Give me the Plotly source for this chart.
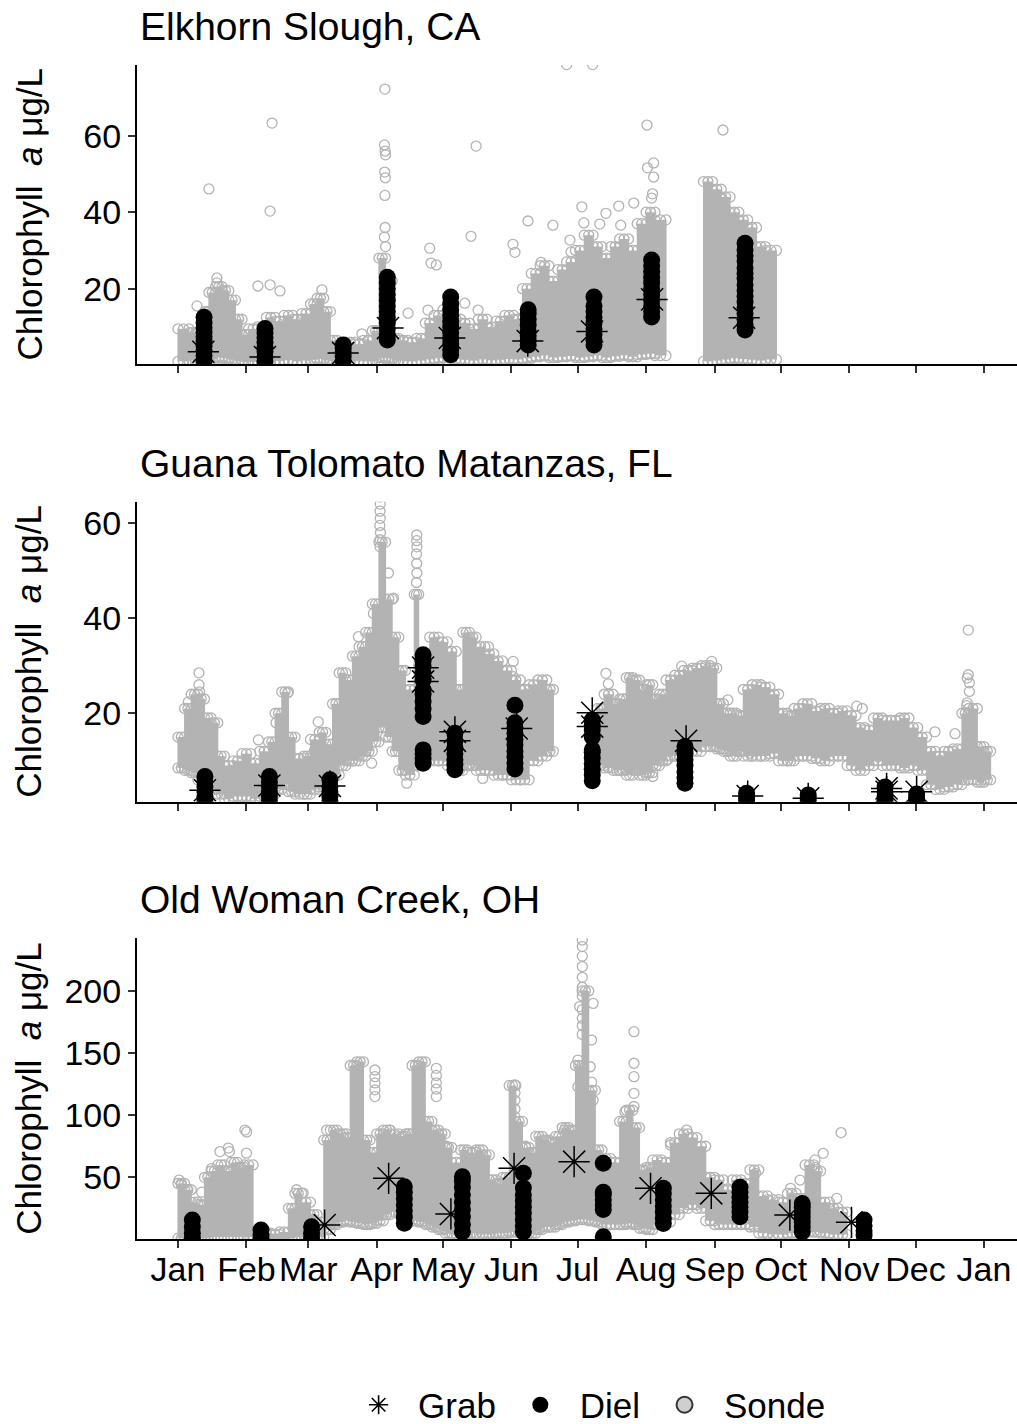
import pandas as pd
import plotly.graph_objects as go

# ---------------------------------------------------------------------------
# Chlorophyll a (ug/L) at three NERR sites: continuous sonde readings,
# diel sampling events and grab samples over one calendar year.
# Days are given as day of year (0 = 1 January).
# ---------------------------------------------------------------------------
YEAR_START = pd.Timestamp("2017-01-01")

month_ticks = ["2017-01-01", "2017-02-01", "2017-03-01", "2017-04-01",
               "2017-05-01", "2017-06-01", "2017-07-01", "2017-08-01",
               "2017-09-01", "2017-10-01", "2017-11-01", "2017-12-01",
               "2018-01-01"]
month_labels = ["Jan", "Feb", "Mar", "Apr", "May", "Jun", "Jul", "Aug",
                "Sep", "Oct", "Nov", "Dec", "Jan"]

site_names = ["Elkhorn Slough, CA", "Guana Tolomato Matanzas, FL",
              "Old Woman Creek, OH"]

# ---- Elkhorn Slough -------------------------------------------------------
# sonde envelope: window edges (days), upper and lower reading per window
es_edges = [0, 5, 8, 12, 14, 17, 20, 23, 26, 29, 32, 36, 40, 44, 48, 52, 56,
            60, 63, 66, 69, 72, 76, 80, 84, 88, 91, 94, 97, 100, 104, 108, 112,
            116, 120, 124, 128, 132, 136, 140, 144, 148, 152, 156, 160, 164,
            168, 172, 176, 180, 184, 188, 192, 196, 200, 204, 208, 212, 216,
            221, 238, 242, 246, 250, 254, 258, 262, 266, 271]
es_hi = [9.5, 8.5, 8, 14, 19, 20.5, 19.5, 17, 12, 8, 9.5, 10, 12.5, 11.5, 13,
         12, 13.5, 16, 17.5, 14, 6.5, 5, 6, 5.5, 6.5, 9, 28, 22, 7, 6.5, 6, 7,
         11, 13, 14.5, 12, 11, 9.5, 12, 10, 11.5, 13, 12, 20, 24, 26, 22, 25,
         27, 30, 34, 31, 28, 31, 33, 30, 37, 40, 38, None, 48, 46, 44, 40, 38,
         36, 31, 30]
es_lo = [1.0, 1.2, 0.9, 1.1, 1.5, 2.0, 1.8, 1.4, 1.0, 0.8, 0.9, 1.0, 1.2, 1.1,
         1.3, 1.0, 1.2, 1.4, 1.6, 1.2, 1.0, 0.9, 1.0, 1.1, 1.0, 1.2, 2.0, 1.8,
         1.2, 1.1, 1.0, 1.2, 1.5, 1.8, 2.0, 1.6, 1.4, 1.2, 1.5, 1.3, 1.4, 1.6,
         1.5, 1.8, 2.2, 2.5, 2.0, 2.2, 2.4, 2.0, 2.2, 2.5, 2.0, 2.3, 2.6, 2.2,
         2.8, 3.0, 2.5, None, 1.0, 1.2, 1.5, 1.8, 1.6, 1.4, 1.2, 1.5]
# isolated sonde readings outside the main envelope
es_out_day = [14, 42.6, 41.7, 93.7, 93.5, 93.8, 94, 93.6, 93.9, 93.7, 93.8,
              93.5, 94, 135, 132.7, 114, 114.6, 117, 176, 187.8, 212.4, 246.8,
              215.4, 212.6, 215.4, 214.9, 214.5, 158.5, 169.8, 182.9, 191,
              199.6, 206.4, 200.5, 183.8, 177.5, 178, 245.5, 246.5, 251, 8.6,
              36.2, 41.7, 46.2, 17.6, 17.6, 65.2, 104.2, 83.3, 113.2, 129.9,
              135.9, 151.7, 152.6, 164.4, 193.8]
es_out_val = [46.1, 63.3, 40.3, 72.2, 57.6, 56, 55, 50.5, 49, 44.4, 36, 33.5,
              31, 57.3, 33.7, 30.6, 26.7, 26.2, 78.6, 78.6, 62.8, 61.5, 52.9,
              51.6, 49.2, 44.8, 43.7, 37.7, 36.6, 41.4, 36.9, 41.6, 42.4, 36.6,
              37.2, 32.7, 29.6, 43.7, 41.1, 36.6, 15.5, 20.7, 21, 19.4, 22.8,
              21.5, 19.7, 13.6, 8.2, 14.4, 16.2, 14.4, 31.6, 29.5, 26.9, 39.7]
es_diel_day = [11.8, 39.4, 74.8, 94.8, 123.5, 158.6, 188.4, 214.5, 256.8]
es_diel_val = [
    [1.2, 2.5, 3.8, 5, 6.3, 7.5, 8.6, 9.8, 11, 12.5],
    [1.0, 2.2, 3.5, 4.7, 6, 7.2, 8.4, 9.6],
    [1.2, 2.3, 3.4, 4.4, 5.3],
    [6.6, 8, 9.5, 11, 12.5, 14, 15.5, 17, 18.5, 20, 21.5, 23],
    [2.7, 4, 5.5, 7, 8.5, 10, 11.5, 13, 14.5, 16, 17.8],
    [5.3, 6.5, 7.7, 9, 10.5, 12, 13.5, 14.5],
    [5.3, 6.5, 8, 9.5, 11, 12.5, 14, 15.5, 17.8],
    [12.6, 14, 15.5, 17, 18.5, 20, 21.5, 23, 24.5, 26, 27.5],
    [9.2, 10.5, 12, 13.5, 15, 16.5, 18, 19.5, 21, 22.7, 24, 25.5, 27.3, 28.6,
     30.2, 31.9],
]
es_grab_day = [11.5, 39.4, 74.8, 95.1, 123.1, 158.4, 187.5, 214.7, 256.4]
es_grab_val = [3.5, 2.1, 3.2, 9.7, 7.1, 6.3, 8.8, 17.2, 12.4]

# ---- Guana Tolomato Matanzas ---------------------------------------------
gt_edges = [0, 3, 6, 9, 12, 15, 18, 21, 25, 29, 33, 37, 41, 44, 47, 50, 53, 57,
            60, 64, 67, 70, 73, 76, 79, 82, 85, 88, 91, 94, 97, 100, 103, 107,
            109, 111, 114, 118, 122, 126, 129, 132, 135, 139, 143, 147, 151,
            155, 159, 163, 167, 170, 190, 193, 197, 200, 203, 206, 209, 212,
            215, 218, 221, 225, 229, 233, 237, 241, 244, 247, 250, 253, 256,
            260, 264, 268, 272, 276, 279, 283, 287, 291, 295, 299, 303, 307,
            311, 315, 319, 323, 327, 331, 335, 339, 343, 347, 351, 355, 358,
            362, 365, 368]
gt_hi = [15, 21, 24, 23, 19, 18, 11, 9, 10, 11.5, 9.5, 12, 14, 20, 24.5, 15,
         10.5, 11, 14.5, 16, 13.5, 22, 28.5, 27, 32, 34, 37, 43, 56, 44, 36,
         29, 25, 45, 30, 30, 36, 35, 33, 25, 37, 36, 34, 32.5, 31, 29, 27, 25,
         26, 27, 25, None, 21, 24, 22, 23, 27.5, 27, 25, 26, 23, 24, 27, 28,
         29, 29.5, 30, 29.5, 22, 20, 20, 19.5, 25, 26, 25.5, 24, 20, 19.5, 21,
         22, 20.5, 21, 20, 20.5, 19.5, 17, 16.5, 19, 18.5, 18.5, 19, 17, 15,
         12, 11, 12, 12.5, 20, 21, 13, 12]
gt_lo = [8.5, 8, 7.5, 6, 5, 4, 3, 2, 2.5, 2.5, 2, 2.5, 3, 4, 5, 3.5, 3, 3, 4,
         4.5, 4, 7, 9, 10, 10, 11, 12, 14, 17, 15, 12, 8, 7, 9, 10, 10, 10, 10,
         9, 8, 9, 9, 8, 8, 7, 7, 6, 6, 10, 11, 12, None, 9, 8.5, 8, 8, 7, 8, 7,
         7.5, 9, 10, 11, 11, 12, 12, 13, 13, 12.5, 12, 11, 12, 11, 11, 11,
         11.5, 10, 10, 11, 11, 10.5, 10, 11, 11, 9, 8, 9, 10, 9, 9, 8.5, 9, 8,
         5, 4, 4.5, 5, 6, 6, 5.5, 6]
gt_out_day = [9.5, 9.5, 9.8, 9.3, 4.7, 36.4, 44.4, 49.7, 63.5, 61.7, 81.7,
              88.5, 95.3, 97.6, 91.5, 91.5, 91.7, 91.4, 91.6, 91.5, 91.6, 91.5,
              108.1, 108.1, 108.2, 108.0, 108.1, 108.2, 108.0, 123.2, 140.6,
              151.8, 151.8, 138, 193.8, 194.9, 215, 221.8, 241.7, 228.1, 249,
              259, 307.4, 309.9, 342.8, 351.9, 357.9, 357.9, 357.4, 358.4,
              358.4, 357.4, 357.2, 103.6, 87.7]
gt_out_val = [28.5, 26, 24.5, 22.5, 22.4, 14.4, 18, 24.3, 18.2, 12, 36.1, 41,
              49.5, 44.2, 55, 56.5, 58, 59.5, 61, 62.5, 64, 65.5, 57.5, 56.3,
              55, 53.5, 51.5, 49.5, 47.5, 31.6, 34, 30.9, 27.7, 6.3, 28.4, 26.2,
              6.7, 10.3, 30.9, 29.9, 22.8, 11.6, 21.5, 21, 16.1, 15.7, 37.5,
              28.1, 27.4, 26.4, 24.6, 22.2, 21.6, 5.3, 9.5]
gt_diel_day = [12.2, 41.4, 68.8, 111, 125.4, 152.6, 187.6, 229.6, 257.5,
               285.4, 320.2, 334.5]
gt_diel_val = [
    [1.5, 2.5, 3.5, 4.6, 5.6, 6.7],
    [1.5, 2.5, 3.5, 4.6, 5.6, 6.7],
    [1.5, 2.5, 3.5, 4.6, 6],
    [9.5, 10.5, 11.5, 12.3, 19.3, 21, 22.5, 24, 24.9, 27, 28.5, 30, 31, 32.3],
    [8.1, 9.2, 10.3, 11.5, 12.8, 14.2, 15.8],
    [8.3, 9.5, 10.8, 12, 13.3, 14.5, 15.8, 17, 18, 21.7],
    [5.8, 7, 8.2, 9.4, 10.6, 11.8, 12.3, 15, 16.5, 17.5, 18.6],
    [5.3, 6.5, 7.7, 9, 10.3, 11.6, 13],
    [1.5, 2.3, 3.2],
    [1.5, 2.2, 2.8],
    [1.5, 2.5, 3.5, 4.5],
    [1.5, 2.2, 3],
]
gt_grab_day = [12.2, 41.4, 68.8, 111, 111, 125.4, 125.4, 153.4, 187.6, 187.6,
               230.1, 258, 285.4, 320.9, 320.9, 334.5]
gt_grab_val = [3.8, 4.8, 4.7, 29.6, 26.7, 16.1, 14.2, 16.8, 20.1, 17.2, 14.2,
               2.6, 2.1, 4.2, 3.5, 3.5]

# ---- Old Woman Creek -----------------------------------------------------
ow_edges = [0, 3, 6, 9, 12, 15, 18, 21, 24, 27, 30, 34, 38, 42, 46, 50, 53,
            56, 60, 63, 66, 69, 72, 75, 78, 81, 84, 87, 90, 93, 96, 100, 103,
            106, 109, 112, 115, 118, 121, 124, 128, 131, 135, 138, 141, 144,
            147, 150, 153, 156, 159, 162, 165, 168, 171, 174, 177, 180, 183,
            186, 189, 192, 196, 200, 203, 206, 209, 212, 215, 219, 223, 227,
            231, 235, 239, 243, 247, 251, 255, 259, 263, 267, 272, 276, 280,
            284, 288, 291, 295, 299, 303]
ow_hi = [45, 40, 30, 28, 50, 55, 60, 55, 62, 58, 60, 6, 5, 4, 6, 25, 37, 30,
         20, 14, 80, 88, 85, 82, 140, 143, 80, 70, 85, 88, 85, 83, 85, 140,
         143, 95, 88, 85, 74, 62, 72, 70, 72, 68, 48, 45, 50, 124, 95, 74, 70,
         83, 80, 78, 83, 90, 88, 140, 200, 120, 72, 65, 62, 95, 104, 90, 56,
         58, 64, 62, 78, 85, 82, 75, 50, 48, 40, 48, 45, 56, 35, 32, 30, 37,
         33, 60, 55, 30, 25, 22]
ow_lo = [1, 1, 1, 1, 1, 2, 2, 2, 2, 2, 2, 0.5, 0.5, 0.5, 0.5, 1, 2, 2, 1, 2,
         8, 12, 14, 15, 14, 13, 12, 13, 15, 20, 22, 20, 15, 15, 14, 12, 10, 8,
         5, 4, 4, 5, 4, 4, 4, 5, 5, 6, 6, 5, 5, 8, 10, 10, 12, 14, 15, 16, 16,
         15, 14, 12, 12, 12, 13, 12, 9, 8, 12, 14, 20, 25, 28, 25, 15, 12, 12,
         12, 12, 10, 5, 4, 4, 5, 5, 6, 6, 5, 4, 4]
ow_out_day = [0.5, 1.5, 4.2, 19, 22.8, 23.3, 31, 30.3, 31.1, 10.7, 15.2, 53.7,
              56.7, 67.3, 76.4, 96, 104.3, 89.2, 89.2, 89.2, 89.2, 89.2, 117,
              117, 117, 117, 117, 121.7, 121.7, 121.7, 121.7, 152.6, 152.6,
              152.6, 152.6, 152.6, 157.4, 183.1, 183.1, 183.1, 183.1, 183.1,
              183.1, 183.1, 183.1, 183.1, 183.1, 183.1, 181.9, 188, 187.3,
              181.1, 186.7, 181.1, 187.3, 188, 175, 206.5, 206.5, 206.5, 206.5,
              206.5, 202.4, 230.4, 223, 261.6, 277.4, 281.7, 292.2, 288.5,
              288.5, 300.3, 298.3]
ow_out_val = [47.8, 44, 40, 70.7, 73.5, 70.7, 69.4, 88, 86.5, 38, 57, 40,
              37.3, 88, 85, 88, 85, 136.4, 131, 126, 120.4, 115, 137.7, 132,
              126, 121, 115, 75, 68, 62, 56, 124.3, 118, 112, 105, 98.8, 75,
              241, 235.7, 228, 219.6, 211, 203, 196, 185, 178, 172, 165, 187.4,
              190, 160.5, 144.4, 139, 123, 126.6, 112, 88, 167.2, 141.8, 131,
              117.6, 107, 102.8, 88, 76, 53.2, 41.1, 47.8, 69.3, 64, 58, 86, 33]
ow_diel_day = [6.5, 37.6, 60.5, 102.5, 128.8, 156.4, 192.6, 219.8, 254.5,
               282.7, 310.7]
ow_diel_val = [
    [1, 5, 10, 15.6],
    [1, 4, 7.6],
    [1, 5, 10.2],
    [13, 18, 23, 28, 33, 38, 42.4],
    [6.2, 12, 18, 24, 30, 36, 42, 47, 50.5],
    [6.2, 11, 16, 21, 26, 31, 36, 41.4, 53.2],
    [2.2, 24, 28, 32, 36, 38, 61.3],
    [12.8, 17, 22, 27, 32, 37, 41.1],
    [18.3, 22, 26, 30, 34, 38, 42],
    [6.2, 10, 14, 18, 22, 26, 29],
    [3.5, 7, 11, 15.6],
]
ow_grab_day = [66.4, 95.4, 123.6, 152.2, 179.4, 214, 241.5, 277.1, 305]
ow_grab_val = [11.6, 49.2, 20.5, 57.2, 62.6, 41.1, 37.1, 19.6, 13.8]

# axis settings per panel
y_ranges = [[0.3, 78.5], [1.4, 64.5], [0.1, 242.4]]
y_tickvals = [[20, 40, 60], [20, 40, 60], [50, 100, 150, 200]]

# ---------------------------------------------------------------------------
W, H = 1017, 1424
LEFT = 137
PANEL_PX = [(65, 364), (501.7, 801.7), (938.3, 1239.3)]  # top, bottom

SONDE = "#b3b3b3"
FONT = "Liberation Sans, Arial, sans-serif"
DAY_MS = 86400000
OVERLAP = 0.5  # days added to each envelope window so neighbours merge


def to_dates(days):
    return [YEAR_START + pd.Timedelta(days=float(d)) for d in days]


sites = [
    dict(edges=es_edges, hi=es_hi, lo=es_lo, od=es_out_day, ov=es_out_val,
         dd=es_diel_day, dv=es_diel_val, gd=es_grab_day, gv=es_grab_val),
    dict(edges=gt_edges, hi=gt_hi, lo=gt_lo, od=gt_out_day, ov=gt_out_val,
         dd=gt_diel_day, dv=gt_diel_val, gd=gt_grab_day, gv=gt_grab_val),
    dict(edges=ow_edges, hi=ow_hi, lo=ow_lo, od=ow_out_day, ov=ow_out_val,
         dd=ow_diel_day, dv=ow_diel_val, gd=ow_grab_day, gv=ow_grab_val),
]

fig = go.Figure()

for i, s in enumerate(sites):
    xa = "x" if i == 0 else f"x{i + 1}"
    ya = "y" if i == 0 else f"y{i + 1}"

    # continuous sonde record: solid envelope per window
    bx, bw, bb, bh = [], [], [], []
    ex, ey = [], []
    for k, (hi, lo) in enumerate(zip(s["hi"], s["lo"])):
        if hi is None:
            continue
        d0, d1 = s["edges"][k], s["edges"][k + 1]
        bx.append((d0 + d1) / 2)
        bw.append((d1 - d0 + OVERLAP) * DAY_MS)
        bb.append(lo)
        bh.append(hi - lo)
        for d in (d0, (d0 + d1) / 2, d1):
            ex += [d, d]
            ey += [hi, lo]
    fig.add_trace(go.Bar(
        x=to_dates(bx), y=bh, base=bb, width=bw, xaxis=xa, yaxis=ya,
        marker=dict(color=SONDE, line=dict(width=0)), showlegend=False,
        hoverinfo="skip"))
    fig.add_trace(go.Scatter(
        x=to_dates(ex + list(s["od"])), y=ey + list(s["ov"]),
        mode="markers", xaxis=xa, yaxis=ya, showlegend=False,
        marker=dict(symbol="circle-open", size=10, color=SONDE,
                    line=dict(width=1.3, color=SONDE))))

    # diel sampling events
    ddx, ddy = [], []
    for d, vals in zip(s["dd"], s["dv"]):
        ddx += [d] * len(vals)
        ddy += vals
    fig.add_trace(go.Scatter(
        x=to_dates(ddx), y=ddy, mode="markers", xaxis=xa, yaxis=ya,
        showlegend=False,
        marker=dict(symbol="circle", size=17, color="black",
                    line=dict(width=0))))

    # grab samples
    fig.add_trace(go.Scatter(
        x=to_dates(s["gd"]), y=s["gv"], mode="markers", xaxis=xa, yaxis=ya,
        showlegend=False,
        marker=dict(symbol="asterisk-open", size=26, color="black",
                    line=dict(width=1.5, color="black"))))

# legend keys
NB = "\u00a0\u00a0"
fig.add_trace(go.Scatter(
    x=[None], y=[None], mode="markers", name=NB + "Grab" + NB,
    xaxis="x3", yaxis="y3",
    marker=dict(symbol="asterisk-open", size=16, color="black",
                line=dict(width=1.6, color="black"))))
fig.add_trace(go.Scatter(
    x=[None], y=[None], mode="markers", name=NB + "Diel" + NB,
    xaxis="x3", yaxis="y3",
    marker=dict(symbol="circle", size=16, color="black", line=dict(width=0))))
fig.add_trace(go.Scatter(
    x=[None], y=[None], mode="markers", name=NB + "Sonde",
    xaxis="x3", yaxis="y3",
    marker=dict(symbol="circle", size=16, color="#cfcfcf",
                line=dict(width=2, color="#333333"))))

x_range = ["2016-12-13 10:30", "2018-01-15 23:00"]
axis_common = dict(showline=True, linecolor="black", linewidth=2,
                   ticks="outside", ticklen=7, tickwidth=2,
                   tickcolor="#333333", showgrid=False, zeroline=False,
                   tickfont=dict(family=FONT, size=34, color="black"))

layout = dict(
    width=W, height=H,
    margin=dict(l=LEFT, r=0, t=0, b=0, autoexpand=False),
    paper_bgcolor="white", plot_bgcolor="white",
    barmode="overlay",
    font=dict(family=FONT, color="black"),
    showlegend=True,
    legend=dict(orientation="h", x=0.52, xanchor="center",
                y=(H - 1405) / H, yanchor="middle",
                font=dict(family=FONT, size=35, color="black"),
                bgcolor="rgba(0,0,0,0)", itemsizing="trace"),
)

annotations = []
for i in range(3):
    top, bot = PANEL_PX[i]
    dom = [1 - bot / H, 1 - top / H]
    xkey = "xaxis" if i == 0 else f"xaxis{i + 1}"
    ykey = "yaxis" if i == 0 else f"yaxis{i + 1}"
    layout[xkey] = dict(axis_common, type="date", range=x_range,
                        domain=[0, 1], anchor="y" if i == 0 else f"y{i + 1}",
                        tickvals=month_ticks, ticktext=month_labels,
                        showticklabels=(i == 2), ticklabelstandoff=-8)
    layout[ykey] = dict(axis_common, range=y_ranges[i], domain=dom,
                        anchor="x" if i == 0 else f"x{i + 1}",
                        tickvals=y_tickvals[i], ticklabelstandoff=0)
    annotations.append(dict(
        text=site_names[i], xref="paper", yref="paper",
        x=1 / 880, y=1 - (top - 38.5) / H, xanchor="left", yanchor="middle",
        showarrow=False, font=dict(family=FONT, size=39, color="black")))
    annotations.append(dict(
        text="Chlorophyll  <i>a</i> \u03bcg/L", xref="paper", yref="paper",
        x=(29 - LEFT) / 880, y=1 - (top + bot) / 2 / H, xanchor="center",
        yanchor="middle", textangle=-90, showarrow=False,
        font=dict(family=FONT, size=35, color="black")))
layout["annotations"] = annotations

fig.update_layout(**layout)
fig.write_html("out.html")
